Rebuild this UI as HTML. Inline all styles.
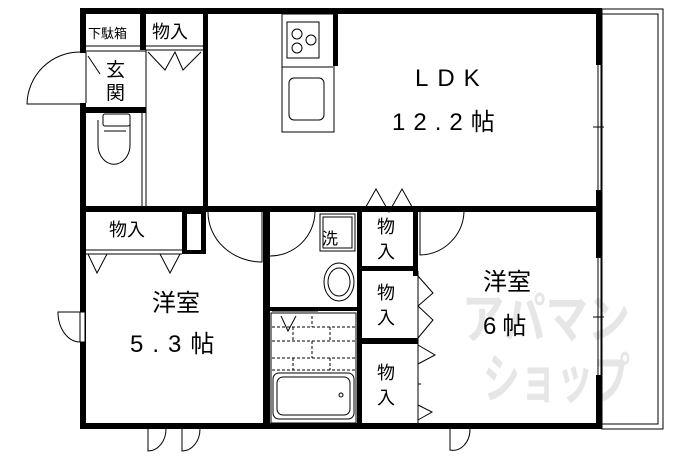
<!DOCTYPE html>
<html><head><meta charset="utf-8"><style>
html,body{margin:0;padding:0;background:#fff}
svg{display:block}
text{font-family:"Liberation Sans","Noto Sans CJK JP",sans-serif;fill:#000}
</style></head><body>
<svg width="690" height="460" viewBox="0 0 690 460" xmlns="http://www.w3.org/2000/svg">
<rect width="690" height="460" fill="#fff"/>
<!-- watermark -->
<text x="462" y="338" font-size="54" font-weight="bold" textLength="168" lengthAdjust="spacingAndGlyphs" style="fill:#e6e6e6">アパマン</text>
<text x="483" y="398" font-size="54" font-weight="bold" textLength="147" lengthAdjust="spacingAndGlyphs" style="fill:#e6e6e6">ショップ</text>
<!-- balcony -->
<rect x="602" y="9" width="61" height="420" fill="none" stroke="#000" stroke-width="1"/>
<rect x="602" y="14" width="56" height="410" fill="none" stroke="#000" stroke-width="1"/>
<g fill="#000">
<rect x="80" y="8" width="522" height="6"/>
<rect x="80" y="8" width="6" height="45"/>
<rect x="80" y="103" width="6" height="326"/>
<rect x="80" y="423" width="522" height="6"/>
<rect x="596" y="8" width="6" height="57"/>
<rect x="596" y="190" width="6" height="68"/>
<rect x="596" y="375" width="6" height="54"/>
<rect x="140" y="14" width="6" height="36"/>
<rect x="203" y="14" width="5" height="198"/>
<rect x="80" y="107" width="66" height="6"/>
<rect x="80" y="206" width="516" height="6"/>
<rect x="263" y="206" width="7" height="223"/>
<rect x="357" y="206" width="5" height="223"/>
<rect x="413" y="206" width="5" height="70"/>
<rect x="270" y="307" width="87" height="4"/>
<rect x="362" y="266" width="51" height="5"/>
<rect x="362" y="338" width="56" height="6"/>
<rect x="333" y="14" width="5" height="52"/>
<rect x="182" y="210" width="24" height="44"/>
</g>
<rect x="187" y="214" width="14" height="36" fill="#fff"/>
<g fill="none" stroke="#000" stroke-width="1">
<line x1="598" y1="65" x2="598" y2="190"/><line x1="601" y1="65" x2="601" y2="190"/>
<line x1="598" y1="258" x2="598" y2="375"/><line x1="601" y1="258" x2="601" y2="375"/>
<line x1="593" y1="127" x2="604" y2="127"/><line x1="593" y1="317" x2="604" y2="317"/>
<line x1="86" y1="46" x2="140" y2="46"/><line x1="86" y1="51" x2="146" y2="51"/>
<path d="M80 52 A53 53 0 0 0 27 104 L80 104"/>
<line x1="88" y1="56" x2="100" y2="74"/>
<line x1="86" y1="52" x2="86" y2="103"/>
<line x1="146" y1="46" x2="203" y2="46"/><line x1="146" y1="50" x2="203" y2="50"/>
<path d="M148 52 L165 70 L175 52 L183 70 L201 52"/>
<line x1="146" y1="50" x2="146" y2="206"/><line x1="142" y1="113" x2="142" y2="206"/>
<line x1="204" y1="115" x2="204" y2="160"/>
<rect x="103" y="114" width="27" height="12" rx="2"/>
<path d="M98 120 L98 145 A15 18 0 0 0 130 145 L130 120"/>
<line x1="104" y1="131" x2="126" y2="131"/>
<rect x="282" y="14" width="52" height="118"/>
<rect x="287" y="22" width="32" height="36"/>
<circle cx="297" cy="34" r="5"/><circle cx="311" cy="40" r="5"/><circle cx="297" cy="48" r="5"/>
<line x1="282" y1="67" x2="333" y2="67"/>
<rect x="289" y="78" width="35" height="42" rx="5"/>
<line x1="334" y1="68" x2="334" y2="130"/>
<line x1="86" y1="250" x2="182" y2="250"/><line x1="86" y1="254" x2="182" y2="254"/>
<path d="M88 254 L97 273 L107 254"/><path d="M160 254 L170 273 L180 254"/>
<path d="M208 212 A54 50 0 0 0 262 262 L262 212"/>
<path d="M80 312 L58 312 A22 30 0 0 0 80 342"/>
<rect x="80" y="312" width="5" height="30" fill="#fff"/>
<path d="M148 429 L148 451 A18 22 0 0 0 166 429"/>
<path d="M182 429 L182 451 A18 22 0 0 0 200 429"/>
<path d="M270 256 A45 45 0 0 0 315 212"/>
<rect x="320" y="214" width="35" height="37"/><rect x="323" y="217" width="29" height="31"/>
<ellipse cx="339" cy="282" rx="15" ry="19"/><ellipse cx="339" cy="282" rx="11" ry="14"/>
<line x1="272" y1="311" x2="318" y2="311"/>
<rect x="271" y="313" width="85" height="110"/>
<path d="M281 316 L288 331 L296 316"/>
<g stroke-dasharray="3,2">
<line x1="272" y1="327" x2="356" y2="327"/><line x1="272" y1="341" x2="356" y2="341"/>
<line x1="272" y1="358" x2="356" y2="358"/><line x1="272" y1="370" x2="356" y2="370"/>
<line x1="312" y1="316" x2="312" y2="327"/><line x1="293" y1="327" x2="293" y2="341"/>
<line x1="330" y1="327" x2="330" y2="341"/><line x1="312" y1="341" x2="312" y2="358"/>
<line x1="293" y1="358" x2="293" y2="370"/><line x1="330" y1="358" x2="330" y2="370"/>
</g>
<rect x="273" y="373" width="81" height="46" rx="6"/><rect x="277" y="377" width="73" height="38" rx="6"/>
<circle cx="341" cy="395" r="2"/>
<path d="M363 212 L376 189 L389 212 L402 189 L415 212"/>
<line x1="418" y1="271" x2="418" y2="423"/>
<path d="M418 276 L433 293 L418 306 L433 320 L418 338"/>
<path d="M418 345 L435 355 L418 364"/><line x1="418" y1="384" x2="421" y2="384"/>
<path d="M418 405 L432 412 L418 420"/>
<path d="M420 212 L420 255 A45 45 0 0 0 464 212"/>
<path d="M450 429 L450 450 A17 21 0 0 0 470 429"/>
</g>
<text x="88" y="38" font-size="13">下駄箱</text>
<text x="152" y="38" font-size="18">物入</text>
<text x="106" y="76" font-size="19">玄</text>
<text x="106" y="99" font-size="19">関</text>
<text x="109" y="236" font-size="18">物入</text>
<text x="322" y="244" font-size="16">洗</text>
<text x="377" y="233" font-size="18">物</text><text x="377" y="258" font-size="18">入</text>
<text x="377" y="299" font-size="18">物</text><text x="377" y="324" font-size="18">入</text>
<text x="377" y="379" font-size="18">物</text><text x="377" y="404" font-size="18">入</text>
<text x="415" y="86" font-size="24" letter-spacing="9">LDK</text>
<text x="392" y="130" font-size="24" letter-spacing="8">12.2帖</text>
<text x="152" y="311" font-size="24">洋室</text>
<text x="130" y="352" font-size="24" letter-spacing="9">5.3帖</text>
<text x="483" y="290" font-size="24">洋室</text>
<text x="483" y="334" font-size="24" letter-spacing="6">6帖</text>
</svg>
</body></html>
